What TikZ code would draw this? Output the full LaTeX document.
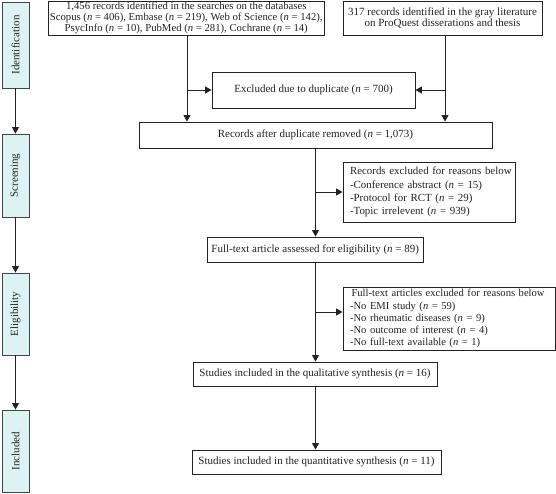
\documentclass[tikz,border=0pt]{standalone}
\usepackage{fontspec}
\setmainfont{Liberation Serif}
\usetikzlibrary{arrows.meta}
\definecolor{sidefill}{HTML}{DDF3F3}
\definecolor{sideline}{HTML}{3A4A4A}
\definecolor{ink}{HTML}{222222}
\begin{document}
\begin{tikzpicture}[x=1pt,y=-1pt,
  box/.style={draw=ink,line width=0.9pt,inner sep=0pt,text=ink,font=\fontsize{11}{11.5}\selectfont,align=center},
  lbox/.style={box,align=left,font=\fontsize{10.9}{13.2}\selectfont},
  side/.style={draw=sideline,fill=sidefill,line width=0.9pt,inner sep=0pt,text=ink,font=\fontsize{11}{12}\selectfont,minimum width=27pt},
  arr/.style={draw=ink,line width=0.9pt,-{Triangle[width=7pt,length=6.5pt]}}]
\useasboundingbox (0,0) rectangle (556,493);
% side boxes
\node[side,minimum height=86pt] (id) at (15.5,45) {\rotatebox{90}{Identification}};
\node[side,minimum height=83pt] (sc) at (15.5,175.5) {\rotatebox{90}{Screening}};
\node[side,minimum height=82pt] (el) at (15.5,314) {\rotatebox{90}{Eligibility}};
\node[side,minimum height=82pt] (in) at (15.5,451) {\rotatebox{90}{Included}};
\draw[arr] (id) -- (sc);
\draw[arr] (sc) -- (el);
\draw[arr] (el) -- (in);
% main boxes
\node[box,minimum width=276.5pt,minimum height=34pt,font=\fontsize{10.7}{11.2}\selectfont] (db) at (186.25,18) {1,456 records identified in the searches on the databases\\Scopus (\textit{n} = 406), Embase (\textit{n} = 219), Web of Science (\textit{n} = 142),\\PsycInfo (\textit{n} = 10), PubMed (\textit{n} = 281), Cochrane (\textit{n} = 14)};
\node[box,minimum width=199pt,minimum height=34pt] (gl) at (442.5,18) {317 records identified in the gray literature\\on ProQuest disserations and thesis};
\node[box,minimum width=203pt,minimum height=36pt] (dup) at (313.5,90) {Excluded due to duplicate (\textit{n} = 700)};
\node[box,minimum width=353pt,minimum height=26pt] (rec) at (315.5,135) {Records after duplicate removed (\textit{n} = 1,073)};
\node[lbox,minimum width=172pt,minimum height=60pt,inner xsep=7pt,text width=158pt] (rex) at (429,192) {\mbox{Records excluded for reasons below}\\\mbox{-Conference abstract (\textit{n} = 15)}\\\mbox{-Protocol for RCT (\textit{n} = 29)}\\\mbox{-Topic irrelevent (\textit{n} = 939)}};
\node[box,minimum width=215.5pt,minimum height=25pt] (ft) at (315.25,249.5) {Full-text article assessed for eligibility (\textit{n} = 89)};
\node[lbox,minimum width=212pt,minimum height=63pt,inner xsep=7pt,inner ysep=2pt,text width=198pt,font=\fontsize{10.6}{12.1}\selectfont] (fex) at (449,318.5) {\mbox{\hspace{1.5pt}Full-text articles excluded for reasons below}\\\mbox{-No EMI study (\textit{n} = 59)}\\\mbox{-No rheumatic diseases (\textit{n} = 9)}\\\mbox{-No outcome of interest (\textit{n} = 4)}\\\mbox{-No full-text available (\textit{n} = 1)}};
\node[box,minimum width=244pt,minimum height=24pt] (qual) at (315,374) {Studies included in the qualitative synthesis (\textit{n} = 16)};
\node[box,minimum width=249pt,minimum height=24pt] (quan) at (316.5,462) {Studies included in the quantitative synthesis (\textit{n} = 11)};
% connectors
\coordinate (lx) at (187,90);
\coordinate (rx) at (445,90);
\draw[arr] (db.south -| lx) -- (rec.north -| lx);
\draw[arr] (gl.south -| rx) -- (rec.north -| rx);
\draw[arr] (lx) -- (dup.west);
\draw[arr] (rx) -- (dup.east);
\coordinate (j1) at (315.5,192);
\coordinate (j2) at (315.5,312);
\draw[arr] (rec.south -| j1) -- (ft.north -| j1);
\draw[arr] (j1) -- (rex.west |- j1);
\draw[arr] (ft.south -| j2) -- (qual.north -| j2);
\draw[arr] (j2) -- (fex.west |- j2);
\draw[arr] (qual.south -| j2) -- (quan.north -| j2);
\end{tikzpicture}
\end{document}
